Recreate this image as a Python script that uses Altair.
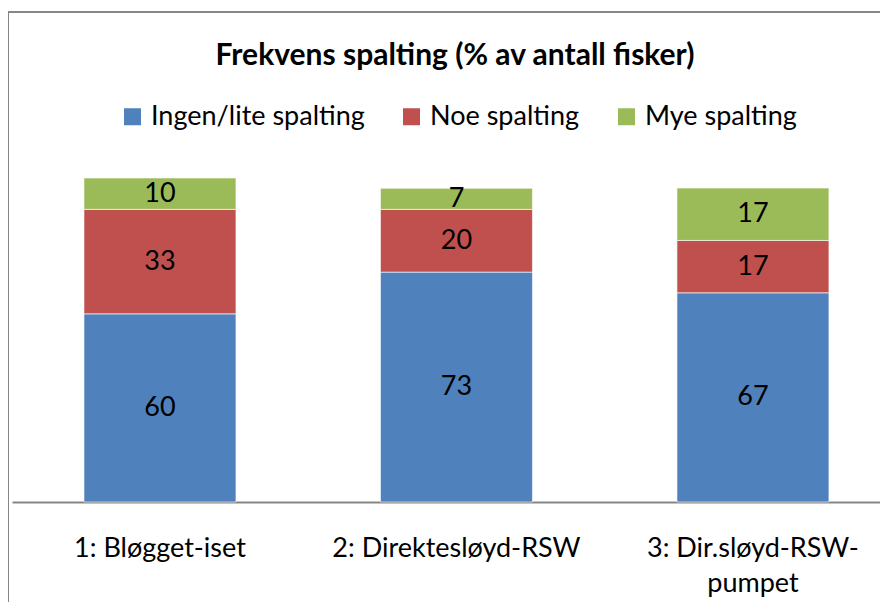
import altair as alt
import pandas as pd

categories = ["1: Bløgget-iset", "2: Direktesløyd-RSW", "3: Dir.sløyd-RSW-pumpet"]
series = ["Ingen/lite spalting", "Noe spalting", "Mye spalting"]
ingen = [60, 73.3, 66.7]
noe = [33.3, 20, 16.7]
mye = [10, 6.7, 16.7]
colors = ["#4F81BD", "#C0504D", "#9BBB59"]

rows = []
for i, c in enumerate(categories):
    for j, (s, vals) in enumerate(zip(series, [ingen, noe, mye])):
        rows.append({"cat": c, "serie": s, "order": j, "value": vals[i]})
df = pd.DataFrame(rows)

FONT = "Lato"
GRAY = "#868686"

base = alt.Chart(df).transform_stack(
    stack="value", groupby=["cat"], sort=[alt.SortField("order", order="ascending")],
    as_=["v0", "v1"]
).transform_calculate(mid="(datum.v0 + datum.v1) / 2")

xenc = alt.X("cat:N", sort=categories, title=None,
             scale=alt.Scale(paddingInner=0.4874, paddingOuter=0.2075, align=0.585),
             axis=alt.Axis(labelAngle=0, ticks=False, domainColor=GRAY, domainWidth=2,
                           labelFontSize=27, labelFont=FONT, labelColor="black",
                           labelPadding=33, labelLimit=400, labelLineHeight=35,
                           labelExpr="datum.label == '3: Dir.sløyd-RSW-pumpet' ? ['3: Dir.sløyd-RSW-', 'pumpet'] : datum.label"))
yscale = alt.Scale(domain=[0, 110], nice=False)

bars = base.mark_bar(stroke="white", strokeWidth=0.6).encode(
    x=xenc,
    y=alt.Y("v0:Q", scale=yscale, axis=None),
    y2="v1:Q",
    color=alt.Color("serie:N", sort=series, scale=alt.Scale(domain=series, range=colors),
                    legend=alt.Legend(title=None, orient="none", direction="horizontal",
                                      columns=3, legendX=107, legendY=-54,
                                      symbolType="square", symbolSize=289, symbolStrokeWidth=0,
                                      labelFontSize=27, labelFont=FONT, labelColor="black",
                                      columnPadding=33, labelOffset=5, labelLimit=400)),
)

labels = base.mark_text(fontSize=27, font=FONT, color="black").encode(
    x=alt.X("cat:N", sort=categories),
    y=alt.Y("mid:Q", scale=yscale),
    text=alt.Text("value:Q", format=".0f"),
)

frame_top = alt.Chart(df).mark_rule(color=GRAY, strokeWidth=1.5).encode(
    x=alt.value(-4), x2=alt.value(880), y=alt.value(-145))
frame_left = alt.Chart(df).mark_rule(color=GRAY, strokeWidth=1.5).encode(
    x=alt.value(-4), y=alt.value(-145), y2=alt.value(500))

chart = alt.layer(frame_top, frame_left, bars, labels).properties(
    width=868, height=345,
    padding={"left": 4, "top": 149, "right": 0, "bottom": 100},
    autosize=alt.AutoSizeParams(type="none"),
    title=alt.TitleParams("Frekvens spalting (% av antall fisker)", fontSize=30, font=FONT,
                          fontWeight="bold", color="black", anchor="middle", dx=9, offset=-60),
).configure_view(stroke=None)

chart.save("out.html", embed_options={"renderer": "svg", "actions": False})
